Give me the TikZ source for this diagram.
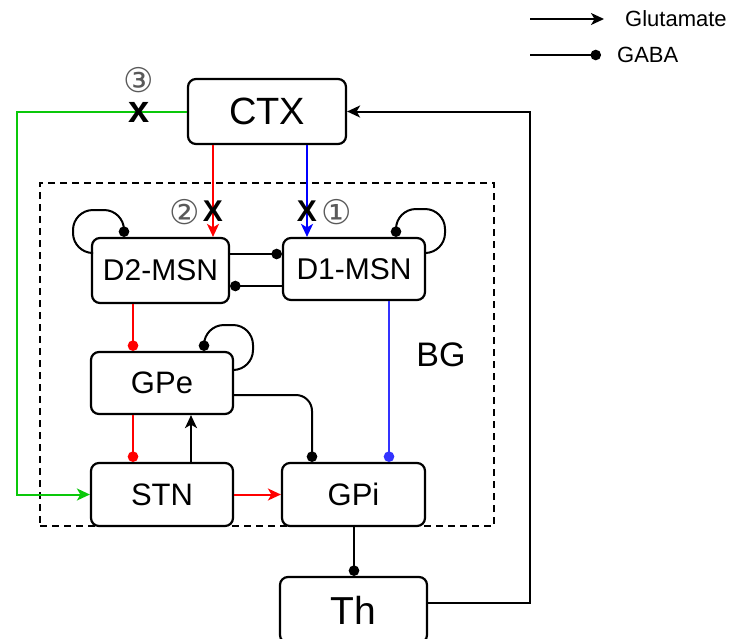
\documentclass[tikz,border=0pt]{standalone}
\usepackage{fontspec}
\setmainfont{Liberation Sans}
\newfontfamily\dejavu{DejaVu Sans}
\usetikzlibrary{arrows.meta}
\definecolor{myred}{RGB}{255,0,0}
\definecolor{myblue}{RGB}{0,0,255}
\definecolor{lblue}{RGB}{51,51,255}
\definecolor{mygreen}{RGB}{10,200,10}
\begin{document}
\begin{tikzpicture}[x=1pt,y=-1pt,
  box/.style={draw, fill=white, line width=2.2pt, rounded corners=8pt, inner sep=0pt},
  glu/.style={-{Stealth[length=13pt,width=12pt,inset=3.5pt]}, line width=2pt},
  gaba/.style={-{Circle[length=10.5pt]}, line width=2pt},
  loop/.style={gaba, rounded corners=20pt},
  fs/.style={font=\fontsize{#1}{#1}\selectfont},
  xmark/.style={font=\fontsize{30}{30}\selectfont\bfseries, inner sep=0pt},
  circnum/.style={font=\fontsize{34}{34}\selectfont\dejavu, text=black!65, inner sep=0pt, text depth=0pt}]
\clip (0,0) rectangle (741,638);
\fill[white] (0,0) rectangle (741,638);
% basal ganglia region
\node[draw, dashed, dash pattern=on 7pt off 5pt, line width=1.7pt, minimum width=454pt, minimum height=343pt, inner sep=0pt] (BG) at (267,354.5) {};
\node[fs=34, anchor=center] (BGlabel) at (441,355) {BG};
% nodes
\node[box, minimum width=158pt, minimum height=65pt, fs=38] (CTX) at (267,111.5) {CTX};
\node[box, minimum width=137pt, minimum height=65pt, fs=30] (D2) at (160.5,270.5) {D2-MSN};
\node[box, minimum width=142pt, minimum height=62pt, fs=30] (D1) at (354,269) {D1-MSN};
\node[box, minimum width=142pt, minimum height=62pt, fs=31] (GPe) at (162,383) {GPe};
\node[box, minimum width=142pt, minimum height=63pt, fs=31] (STN) at (162,494.5) {STN};
\node[box, minimum width=143pt, minimum height=63pt, fs=31] (GPi) at (353.5,494.5) {GPi};
\node[box, minimum width=147pt, minimum height=66pt, fs=39] (Th) at (353.5,610) {Th};
% connections
\draw[glu, myred] (CTX.south -| 213,0) -- (D2.north -| 213,0);
\draw[glu, myblue] (CTX.south -| 307,0) -- (D1.north -| 307,0);
\draw[gaba] (D2.east |- 0,254) -- (D1.west |- 0,254);
\draw[gaba] (D1.west |- 0,286) -- (D2.east |- 0,286);
\draw[gaba, myred] (D2.south -| 133,0) -- (GPe.north -| 133,0);
\draw[gaba, myred] (GPe.south -| 133,0) -- (STN.north -| 133,0);
\draw[glu] (STN.north -| 191,0) -- (GPe.south -| 191,0);
\draw[glu, myred] (STN.east) -- (GPi.west);
\draw[gaba, rounded corners=16pt] (GPe.east |- 0,395) -- (312,395) -- (GPi.north -| 312,0);
\draw[gaba, lblue] (D1.south -| 389,0) -- (GPi.north -| 389,0);
\draw[gaba] (GPi.south -| 354,0) -- (Th.north -| 354,0);
\draw[glu, mygreen] (CTX.west) -- (CTX.west -| 17,0) -- (STN.west -| 17,0) -- (STN.west);
\draw[glu] (Th.east |- 0,603) -- (530,603) -- (CTX.east -| 530,0) -- (CTX.east);
% self loops
\draw[loop] (D2.west |- 0,253) -- (73,253) -- (73,210) -- (124,210) -- (D2.north -| 124,0);
\draw[loop] (D1.east |- 0,253) -- (445,253) -- (445,209) -- (396,209) -- (D1.north -| 396,0);
\draw[loop] (GPe.east |- 0,370) -- (253,370) -- (253,325) -- (204,325) -- (GPe.north -| 204,0);
% lesion marks
\node[xmark] (x2) at (213,211) {X};
\node[circnum] (n2) at (185,212) {②};
\node[xmark] (x1) at (307,211) {X};
\node[circnum] (n1) at (337,212) {①};
\node[xmark, font=\fontsize{38}{38}\selectfont\bfseries] (x3) at (139,112) {x};
\node[circnum] (n3) at (139,80) {③};
% legend
\node[fs=22, anchor=west, inner sep=0pt] (lglu) at (625,19) {Glutamate};
\node[fs=22, anchor=west, inner sep=0pt] (lgaba) at (617,55) {GABA};
\coordinate (lg1) at (530,19);
\coordinate (lg2) at (530,55);
\draw[glu, line width=1.5pt] (lg1) -- ([xshift=-21pt]lglu.west);
\draw[gaba, line width=1.5pt] (lg2) -- ([xshift=-16pt]lgaba.west);
\end{tikzpicture}
\end{document}
